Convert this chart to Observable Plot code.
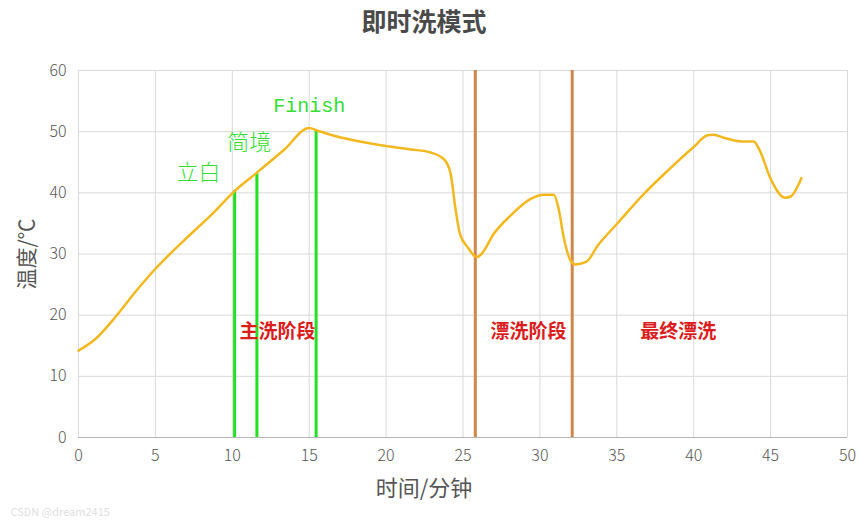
<!DOCTYPE html>
<html>
<head>
<meta charset="utf-8">
<script src="https://cdn.jsdelivr.net/npm/d3@7"></script>
<script src="https://cdn.jsdelivr.net/npm/@observablehq/plot@0.6"></script>
<style>
  html, body { margin: 0; padding: 0; background: #fff; }
</style>
</head>
<body>
<div id="chart"></div>
<script>
// ---- data ----
const time = [0, 1.1, 2.4, 3.6, 4.9, 6.85, 8.6, 10.2, 11.5, 13.35, 15.0, 15.5, 16.8, 18.3, 20.1, 21.6, 22.9, 23.8, 24.2, 24.5, 24.8, 25.3, 25.9, 26.2, 27.0, 28.1, 29.4, 30.25, 30.9, 31.2, 31.55, 32.0, 32.3, 33.0, 33.8, 35.0, 36.75, 38.3, 40.0, 40.9, 41.3, 41.95, 43.15, 43.9, 44.3, 45.0, 45.95, 46.3, 47.0];
const temp = [14.2, 16.1, 19.7, 23.5, 27.3, 32.2, 36.3, 40.4, 43.1, 47.0, 50.6, 50.2, 49.2, 48.4, 47.6, 47.1, 46.6, 45.4, 43.1, 37.6, 33.3, 31.1, 29.5, 30.0, 33.3, 36.3, 39.0, 39.7, 39.7, 37.6, 32.7, 28.9, 28.3, 28.7, 31.5, 34.9, 39.8, 43.6, 47.5, 49.4, 49.5, 49.0, 48.4, 48.4, 46.9, 42.3, 39.2, 39.4, 42.4];

const markerTimes = [10.15, 11.6, 15.45];
const markerTemps = [40.4, 43.1, 50.2];
const markerLabels = ["立白", "简境", "Finish"];
const markerLabelX = [7.8, 11.1, 15.0];
const markerLabelY = [43.3, 48.2, 54.3];

const phaseTimes = [25.8, 32.1];
const phaseLabels = ["主洗阶段", "漂洗阶段", "最终漂洗"];
const phaseLabelX = [12.94, 29.26, 39.0];
const phaseLabelY = 17.3;

const xTicks = [0, 5, 10, 15, 20, 25, 30, 35, 40, 45, 50];
const yTicks = [0, 10, 20, 30, 40, 50, 60];

const title = "即时洗模式";
const xLabel = "时间/分钟";
const yLabel = "温度/℃";
const watermark = "CSDN @dream2415";

// ---- tables ----
const curve = time.map((t, i) => ({t, v: temp[i]}));
const markers = markerTimes.map((t, i) => ({t, v: markerTemps[i]}));
const markerText = markerLabels.map((s, i) => ({s, x: markerLabelX[i], y: markerLabelY[i]}));
const phaseText = phaseLabels.map((s, i) => ({s, x: phaseLabelX[i], y: phaseLabelY}));

const cjk = "'Noto Sans CJK SC', 'Noto Sans', sans-serif";

const chart = Plot.plot({
  width: 860,
  height: 532,
  marginLeft: 78,
  marginRight: 13,
  marginTop: 70,
  marginBottom: 95,
  style: {fontFamily: cjk, fontSize: "16px", color: "#555", background: "#fff"},
  x: {domain: [0, 50], ticks: xTicks},
  y: {domain: [0, 60], ticks: yTicks},
  marks: [
    Plot.gridX(xTicks, {stroke: "#d9d9d9", strokeOpacity: 1}),
    Plot.gridY(yTicks, {stroke: "#d9d9d9", strokeOpacity: 1}),
    Plot.ruleY([0], {stroke: "#b5b5b5", strokeWidth: 1.2}),
    Plot.axisX(xTicks, {tickSize: 0, tickPadding: 12, label: null, fontWeight: 300, fill: "#555"}),
    Plot.axisY(yTicks, {tickSize: 0, tickPadding: 12, label: null, fontWeight: 300, fill: "#555"}),
    Plot.ruleX(markers, {x: "t", y1: 0, y2: "v", stroke: "#22e022", strokeWidth: 3}),
    Plot.ruleX(phaseTimes, {x: d => d, y1: 0, y2: 60, stroke: "#d2874a", strokeWidth: 3}),
    Plot.line(curve, {x: "t", y: "v", curve: "monotone-x", stroke: "#f2b81e", strokeWidth: 2.5}),
    Plot.text(markerText.slice(0, 2), {x: "x", y: "y", text: "s", fill: "#33dd33", fontSize: 22, fontWeight: 300, fontFamily: cjk}),
    Plot.text(markerText.slice(2), {x: "x", y: "y", text: "s", fill: "#33dd33", fontSize: 20, fontFamily: "'Liberation Mono', 'DejaVu Sans Mono', monospace"}),
    Plot.text(phaseText, {x: "x", y: "y", text: "s", fill: "#dc1c1c", fontSize: 19, fontWeight: "bold", fontFamily: cjk}),
    Plot.text([title], {frameAnchor: "top", lineAnchor: "middle", dx: -39, dy: -48, text: d => d, fontSize: 25, fontWeight: "bold", fill: "#4a4a4a", fontFamily: cjk}),
    Plot.text([xLabel], {frameAnchor: "bottom", lineAnchor: "middle", dx: -39, dy: 51, text: d => d, fontSize: 22, fill: "#555", fontFamily: cjk}),
    Plot.text([yLabel], {frameAnchor: "left", textAnchor: "middle", dx: -51, rotate: -90, text: d => d, fontSize: 21, fill: "#555", fontFamily: cjk}),
    Plot.text([watermark], {frameAnchor: "bottom-left", textAnchor: "start", lineAnchor: "middle", dx: -68, dy: 75, text: d => d, fontSize: 11, fill: "#e0e0e0", fontFamily: cjk})
  ]
});
document.getElementById("chart").appendChild(chart);
</script>
</body>
</html>
